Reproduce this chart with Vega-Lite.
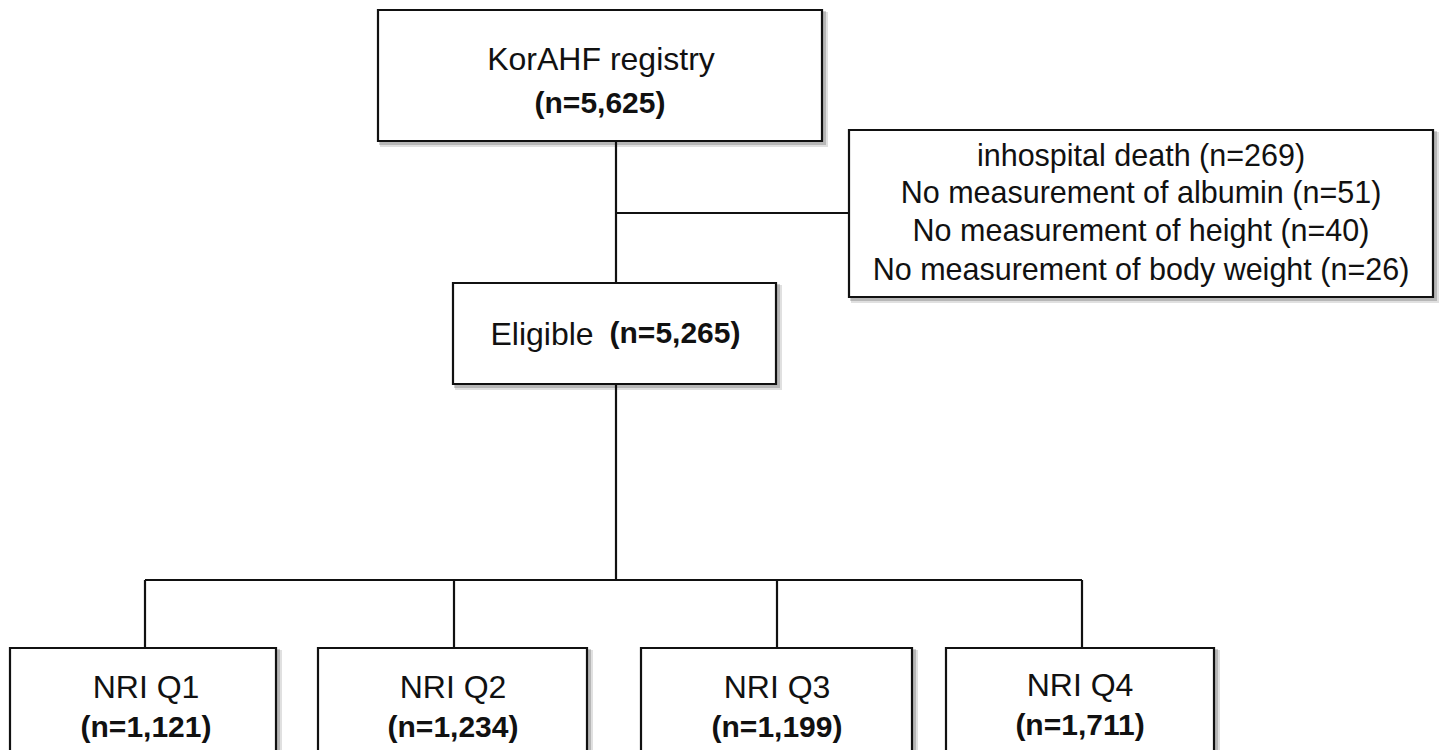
{
  "$schema": "https://vega.github.io/schema/vega-lite/v6.json",
  "width": 1440,
  "height": 750,
  "autosize": {"type": "fit", "contains": "padding"},
  "padding": 0,
  "background": "white",
  "view": {"stroke": null},
  "datasets": {
    "boxes": [
      {"id": "registry", "x1": 378, "x2": 822, "y1": 10, "y2": 141},
      {"id": "excluded", "x1": 849, "x2": 1433, "y1": 130, "y2": 297},
      {"id": "eligible", "x1": 453, "x2": 776, "y1": 283, "y2": 384},
      {"id": "q1", "x1": 10, "x2": 276, "y1": 648, "y2": 770},
      {"id": "q2", "x1": 318, "x2": 587, "y1": 648, "y2": 770},
      {"id": "q3", "x1": 641, "x2": 912, "y1": 648, "y2": 770},
      {"id": "q4", "x1": 946, "x2": 1214, "y1": 648, "y2": 770}
    ],
    "links": [
      {"x1": 616, "y1": 141, "x2": 616, "y2": 283},
      {"x1": 616, "y1": 213, "x2": 849, "y2": 213},
      {"x1": 616, "y1": 384, "x2": 616, "y2": 580},
      {"x1": 145, "y1": 580, "x2": 1082, "y2": 580},
      {"x1": 145, "y1": 580, "x2": 145, "y2": 648},
      {"x1": 454, "y1": 580, "x2": 454, "y2": 648},
      {"x1": 777, "y1": 580, "x2": 777, "y2": 648},
      {"x1": 1082, "y1": 580, "x2": 1082, "y2": 648}
    ],
    "labels": [
      {"kind": "title", "x": 601, "y": 60, "label": "KorAHF registry"},
      {"kind": "count", "x": 600, "y": 104, "label": "(n=5,625)"},
      {"kind": "note", "x": 1141, "y": 157, "label": "inhospital death (n=269)"},
      {"kind": "note", "x": 1141, "y": 194, "label": "No measurement of albumin (n=51)"},
      {"kind": "note", "x": 1141, "y": 232, "label": "No measurement of height (n=40)"},
      {"kind": "note", "x": 1141, "y": 271, "label": "No measurement of body weight (n=26)"},
      {"kind": "title", "x": 542, "y": 335, "label": "Eligible"},
      {"kind": "count", "x": 675, "y": 334, "label": "(n=5,265)"},
      {"kind": "title", "x": 146, "y": 688, "label": "NRI Q1"},
      {"kind": "count", "x": 146, "y": 728, "label": "(n=1,121)"},
      {"kind": "title", "x": 453, "y": 688, "label": "NRI Q2"},
      {"kind": "count", "x": 453, "y": 728, "label": "(n=1,234)"},
      {"kind": "title", "x": 777, "y": 688, "label": "NRI Q3"},
      {"kind": "count", "x": 777, "y": 728, "label": "(n=1,199)"},
      {"kind": "title", "x": 1080, "y": 686, "label": "NRI Q4"},
      {"kind": "count", "x": 1080, "y": 726, "label": "(n=1,711)"}
    ]
  },
  "encoding": {},
  "layer": [
    {
      "data": {"name": "boxes"},
      "mark": {"type": "rect", "fill": "#000000", "opacity": 0.12, "xOffset": 2, "x2Offset": 6, "yOffset": 2, "y2Offset": 6, "clip": true},
      "encoding": {
        "x": {"field": "x1", "type": "quantitative", "scale": {"domain": [0, 1440], "nice": false, "zero": false}, "axis": null},
        "x2": {"field": "x2"},
        "y": {"field": "y1", "type": "quantitative", "scale": {"domain": [0, 750], "reverse": true, "nice": false, "zero": false}, "axis": null},
        "y2": {"field": "y2"}
      }
    },
    {
      "data": {"name": "boxes"},
      "mark": {"type": "rect", "fill": "#000000", "opacity": 0.18, "xOffset": 1, "x2Offset": 4, "yOffset": 1, "y2Offset": 4, "clip": true},
      "encoding": {
        "x": {"field": "x1", "type": "quantitative", "scale": {"domain": [0, 1440], "nice": false, "zero": false}, "axis": null},
        "x2": {"field": "x2"},
        "y": {"field": "y1", "type": "quantitative", "scale": {"domain": [0, 750], "reverse": true, "nice": false, "zero": false}, "axis": null},
        "y2": {"field": "y2"}
      }
    },
    {
      "data": {"name": "links"},
      "mark": {"type": "rule", "color": "#111111", "strokeWidth": 2.2},
      "encoding": {
        "x": {"field": "x1", "type": "quantitative", "scale": {"domain": [0, 1440], "nice": false, "zero": false}, "axis": null},
        "x2": {"field": "x2"},
        "y": {"field": "y1", "type": "quantitative", "scale": {"domain": [0, 750], "reverse": true, "nice": false, "zero": false}, "axis": null},
        "y2": {"field": "y2"}
      }
    },
    {
      "data": {"name": "boxes"},
      "mark": {"type": "rect", "fill": "white", "stroke": "#111111", "strokeWidth": 2.2, "clip": true},
      "encoding": {
        "x": {"field": "x1", "type": "quantitative", "scale": {"domain": [0, 1440], "nice": false, "zero": false}, "axis": null},
        "x2": {"field": "x2"},
        "y": {"field": "y1", "type": "quantitative", "scale": {"domain": [0, 750], "reverse": true, "nice": false, "zero": false}, "axis": null},
        "y2": {"field": "y2"}
      }
    },
    {
      "data": {"name": "labels"},
      "transform": [{"filter": "datum.kind === 'title'"}],
      "mark": {"type": "text", "font": "Liberation Sans", "fontSize": 32, "color": "#111111", "align": "center", "baseline": "middle"},
      "encoding": {
        "x": {"field": "x", "type": "quantitative", "scale": {"domain": [0, 1440], "nice": false, "zero": false}, "axis": null},
        "y": {"field": "y", "type": "quantitative", "scale": {"domain": [0, 750], "reverse": true, "nice": false, "zero": false}, "axis": null},
        "text": {"field": "label"}
      }
    },
    {
      "data": {"name": "labels"},
      "transform": [{"filter": "datum.kind === 'count'"}],
      "mark": {"type": "text", "font": "Liberation Sans", "fontSize": 30, "fontWeight": "bold", "color": "#111111", "align": "center", "baseline": "middle"},
      "encoding": {
        "x": {"field": "x", "type": "quantitative", "scale": {"domain": [0, 1440], "nice": false, "zero": false}, "axis": null},
        "y": {"field": "y", "type": "quantitative", "scale": {"domain": [0, 750], "reverse": true, "nice": false, "zero": false}, "axis": null},
        "text": {"field": "label"}
      }
    },
    {
      "data": {"name": "labels"},
      "transform": [{"filter": "datum.kind === 'note'"}],
      "mark": {"type": "text", "font": "Liberation Sans", "fontSize": 30.5, "color": "#111111", "align": "center", "baseline": "middle"},
      "encoding": {
        "x": {"field": "x", "type": "quantitative", "scale": {"domain": [0, 1440], "nice": false, "zero": false}, "axis": null},
        "y": {"field": "y", "type": "quantitative", "scale": {"domain": [0, 750], "reverse": true, "nice": false, "zero": false}, "axis": null},
        "text": {"field": "label"}
      }
    }
  ]
}
